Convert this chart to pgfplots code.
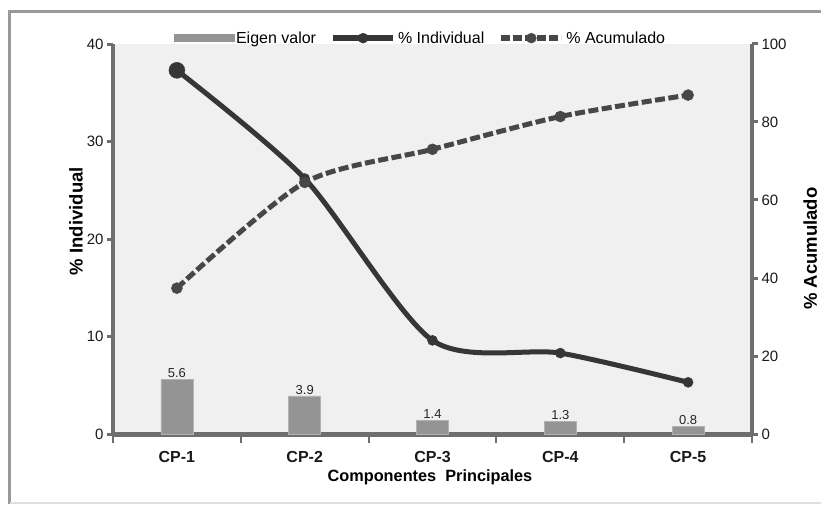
\documentclass[border=0pt]{standalone}
\usepackage{pgfplots}
\pgfplotsset{compat=1.18}
\usepackage{fontspec}
\setmainfont{Liberation Sans}
\definecolor{axgray}{HTML}{6E6E6E}
\definecolor{bggray}{HTML}{F0F0F0}
\definecolor{bargray}{HTML}{949494}
\definecolor{linegray}{HTML}{363636}
\definecolor{dashgray}{HTML}{474747}
\pgfplotsset{
  base/.style={
    at={(113pt,70pt)}, anchor=south west,
    scale only axis, width=639pt, height=390pt,
    xmin=0.5, xmax=5.5,
    /pgf/number format/assume math mode=true,
    tick label style={font=\fontsize{15}{17}\selectfont, color=black!90},
    axis line style={draw=axgray, line width=3.3pt},
    tick style={draw=axgray, line width=3pt},
    tick align=outside,
    major tick length=6pt,
    label style={font=\fontsize{18.5}{21}\selectfont\bfseries},
  }
}
\begin{document}
\begin{tikzpicture}[x=1pt,y=1pt]
\useasboundingbox (0,0) rectangle (821,504);
\draw[line width=3pt, color=black!40] (9.5,0) -- (9.5,492.5) -- (830,492.5);
\draw[line width=1.5pt, color=black!12] (9.5,1) -- (830,1);

\begin{axis}[base,
  ymin=0, ymax=40,
  axis x line*=bottom, axis y line*=left,
  x axis line style={line width=5pt},
  axis background/.style={fill=bggray},
  ytick={0,10,20,30,40},
  xtick={1,2,3,4,5},
  xticklabels={CP-1,CP-2,CP-3,CP-4,CP-5},
  xticklabel style={font=\fontsize{16}{18}\selectfont\bfseries, yshift=-8pt},
  x tick style={draw=none},
  minor xtick={0.5,1.5,2.5,3.5,4.5,5.5},
  minor x tick style={draw=axgray, line width=2pt},
  minor tick length=9pt,
  xlabel={Componentes\ \ Principales},
  xlabel style={at={(axis description cs:0.496,-0.112)}, anchor=center,
    font=\fontsize{16.3}{19}\selectfont\bfseries},
  ylabel={\% Individual},
  ylabel style={at={(axis description cs:-0.058,0.546)}, anchor=center, rotate=0},
  clip=false,
]
\addplot[ybar, bar width=32pt, fill=bargray, draw=black!30, line width=0.8pt,
  nodes near coords,
  every node near coord/.append style={font=\fontsize{13}{15}\selectfont, color=black!85, yshift=-2pt}]
  coordinates {(1,5.6) (2,3.9) (3,1.4) (4,1.3) (5,0.8)};
\addplot[linegray, line width=5pt, smooth, tension=0.45,
  mark=*, mark size=5pt, mark options={solid, fill=linegray, draw=linegray, line width=0.5pt}]
  coordinates {(1,37.3) (2,26.2) (3,9.6) (4,8.3) (5,5.3)};
\addplot[only marks, mark=*, mark size=8pt, mark options={fill=linegray, draw=linegray}]
  coordinates {(1,37.3)};
\end{axis}

\begin{axis}[base,
  ymin=0, ymax=100,
  axis x line=none, axis y line*=right,
  ytick={0,20,40,60,80,100},
  ylabel={\% Acumulado},
  ylabel style={at={(axis description cs:1.091,0.475)}, anchor=center, rotate=0},
  legend columns=3,
  legend style={at={(0.481,1.015)}, anchor=center, draw=none, fill=none,
    font=\fontsize{16}{18}\selectfont, inner sep=0pt,
    /tikz/every odd column/.append style={column sep=0pt},
    /tikz/every even column/.append style={column sep=12pt}},
  clip=false,
]
\addlegendimage{legend image code/.code={\fill[bargray] (-50pt,-3.5pt) rectangle (10pt,3.5pt);}}
\addlegendentry{Eigen valor}
\addlegendimage{legend image code/.code={
  \draw[linegray, line width=6pt] (-50pt,0pt) -- (10pt,0pt);
  \fill[linegray] (-20pt,0pt) circle (5pt);}}
\addlegendentry{\% Individual}
\addlegendimage{legend image code/.code={
  \draw[dashgray, line width=6pt, dash pattern=on 9pt off 3pt] (-50pt,0pt) -- (10pt,0pt);
  \fill[dashgray] (-20pt,0pt) circle (5pt);}}
\addlegendentry{\% Acumulado}
\addplot[dashgray, line width=5pt, smooth, tension=0.45, dash pattern=on 10pt off 3.5pt,
  mark=*, mark size=5.5pt, mark options={solid, fill=dashgray, draw=dashgray, line width=0.5pt}]
  coordinates {(1,37.4) (2,64.5) (3,73.0) (4,81.4) (5,86.9)};
\end{axis}
\end{tikzpicture}
\end{document}
